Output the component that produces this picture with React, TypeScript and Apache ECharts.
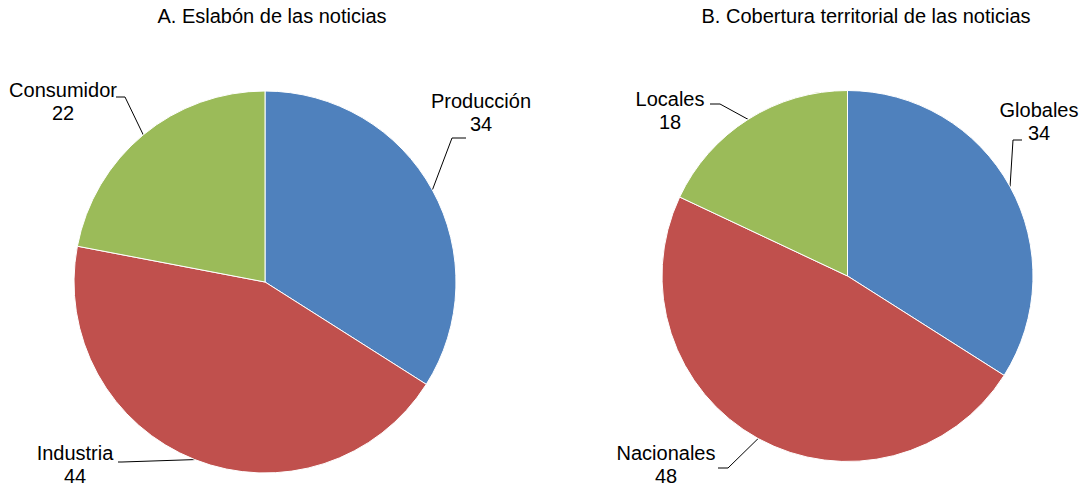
import React, { useEffect, useRef } from "react";
import * as echarts from "echarts";

const titles = ["A. Eslabón de las noticias", "B. Cobertura territorial de las noticias"];
const catsA = ["Producción", "Industria", "Consumidor"];
const valsA = [34, 44, 22];
const catsB = ["Globales", "Nacionales", "Locales"];
const valsB = [34, 48, 18];
const colors = ["#4F81BD", "#C0504D", "#9BBB59"];

// label placement (text block centre, bend, end of leader line)
const labelPosA = [
  { x: 481, y: 112, bend: [452, 138], end: [466, 138] },
  { x: 75, y: 464, bend: [122, 462], end: [118, 462] },
  { x: 63, y: 101, bend: [125, 97], end: [116, 97] },
];
const labelPosB = [
  { x: 1039, y: 121, bend: [1013, 140], end: [1022, 140] },
  { x: 666, y: 464, bend: [728, 468], end: [718, 468] },
  { x: 670, y: 110, bend: [720, 104], end: [710, 104] },
];

const FONT = "'Liberation Sans', Arial, sans-serif";

export default function App() {
  const ref = useRef<HTMLDivElement>(null);
  useEffect(() => {
    if (!ref.current) return;
    const chart = echarts.init(ref.current, null, { renderer: "svg" });
    const mkSeries = (cats: string[], vals: number[], center: number[], r: number, pos: any[]) => ({
      type: "pie",
      center,
      radius: r,
      startAngle: 90,
      clockwise: true,
      data: cats.map((c, i) => ({ name: c, value: vals[i], itemStyle: { color: colors[i] } })),
      itemStyle: { borderColor: "#fff", borderWidth: 1 },
      label: {
        show: true,
        position: "outside",
        formatter: "{b}\n{c}",
        color: "#000",
        fontSize: 20,
        lineHeight: 23,
        fontFamily: FONT,
        align: "center",
        overflow: "none",
        width: 200,
      },
      labelLine: { show: true, length: 10, length2: 10, lineStyle: { color: "#000", width: 1 } },
      labelLayout: (p: any) => {
        const L = pos[p.dataIndex];
        const start = p.labelLinePoints ? p.labelLinePoints[0] : L.bend;
        return {
          x: L.x,
          y: L.y,
          align: "center",
          verticalAlign: "middle",
          labelLinePoints: [start, L.bend, L.end],
        };
      },
      emphasis: { disabled: true },
    });
    chart.setOption({
      animation: false,
      backgroundColor: "#fff",
      title: [
        {
          text: titles[0],
          left: 272,
          top: 6,
          textAlign: "center",
          padding: 0,
          textStyle: { fontSize: 20, fontWeight: "normal", color: "#000", fontFamily: FONT },
        },
        {
          text: titles[1],
          left: 866,
          top: 6,
          textAlign: "center",
          padding: 0,
          textStyle: { fontSize: 20, fontWeight: "normal", color: "#000", fontFamily: FONT },
        },
      ],
      series: [
        mkSeries(catsA, valsA, [265, 282], 191, labelPosA),
        mkSeries(catsB, valsB, [847.5, 276], 185.5, labelPosB),
      ],
    });
    return () => chart.dispose();
  }, []);
  return (
    <div
      ref={ref}
      style={{ position: "fixed", left: 0, top: 0, width: 1082, height: 485, background: "#fff" }}
    />
  );
}
